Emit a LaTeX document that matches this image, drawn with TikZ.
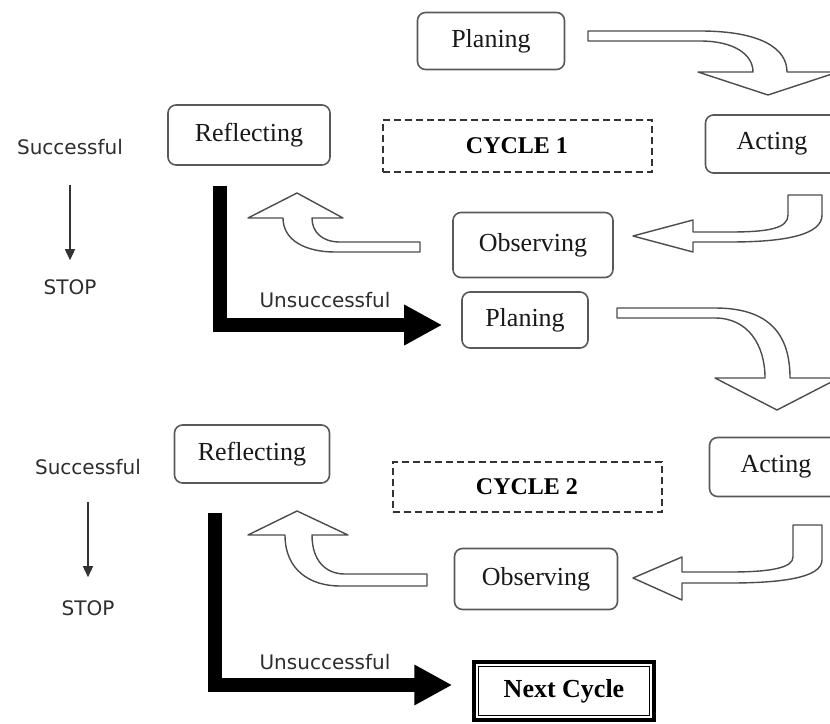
\documentclass[tikz,border=0pt]{standalone}
\usepackage{fontspec}
\setmainfont{Liberation Serif}
\newfontfamily\labelfont{DejaVu Sans}
\usetikzlibrary{arrows.meta}

\begin{document}
\begin{tikzpicture}[x=1pt,y=-1pt,
  box/.style={draw=black!65, line width=1.6pt, rounded corners=8pt, inner sep=0pt, text=black!90, font=\fontsize{26}{28}\selectfont},
  cyclebox/.style={draw=black!80, dash pattern=on 7pt off 4pt, line width=2pt, inner sep=0pt, font=\bfseries\fontsize{24}{26}\selectfont},
  nextbox/.style={draw=black, line width=3.5pt, inner sep=0pt, font=\bfseries\fontsize{26}{28}\selectfont},
  lbl/.style={inner sep=0pt, text=black!82, font=\labelfont\fontsize{20}{22}\selectfont},
  fat/.style={draw=black!70, fill=white, line width=1.4pt, line join=round},
  heavy/.style={line width=14pt, -{Triangle[length=38pt,width=38pt]}},
  stoparrow/.style={draw=black!80, line width=1.3pt, -{Triangle[length=11pt,width=10pt]}}]
\fill[white] (0,0) rectangle (830,723);
\clip (0,0) rectangle (830,723);

\node (n0) [box, minimum width=147pt, minimum height=57pt, at={(491,41)}] {Planing};
\node (n1) [box, minimum width=133pt, minimum height=58pt, at={(772,144)}] {Acting};
\node (n2) [box, minimum width=160pt, minimum height=65pt, at={(533,245)}] {Observing};
\node (n3) [box, minimum width=162pt, minimum height=60pt, at={(249,135)}] {Reflecting};
\node (n4) [cyclebox, minimum width=269pt, minimum height=52pt, at={(517,146)}] {CYCLE 1};
\node (n5) [lbl, at={(70,147)}] {Successful};
\node (n6) [lbl, at={(70,287)}] {STOP};
\node (n7) [lbl, at={(325,300)}] {Unsuccessful};

\node (m0) [box, minimum width=126pt, minimum height=56pt, at={(525,320)}] {Planing};
\node (m1) [box, minimum width=133pt, minimum height=59pt, at={(776,467)}] {Acting};
\node (m2) [box, minimum width=163pt, minimum height=61pt, at={(536,579)}] {Observing};
\node (m3) [box, minimum width=155pt, minimum height=58pt, at={(252,454)}] {Reflecting};
\node (m4) [cyclebox, minimum width=269pt, minimum height=50pt, at={(527,487)}] {CYCLE 2};
\node (m5) [lbl, at={(88,467)}] {Successful};
\node (m6) [lbl, at={(88,608)}] {STOP};
\node (m7) [lbl, at={(325,662)}] {Unsuccessful};
\node (m8) [nextbox, minimum width=180pt, minimum height=58pt, at={(564,691)}] {Next Cycle};
\draw [line width=1pt] ([shift={(6,6)}]m8.north west) rectangle ([shift={(-6,-6)}]m8.south east);

% hollow block arrows, cycle 1
\path [fat] (588,31) -- (700,31) .. controls (760,31) and (787,48) .. (787,72) -- (838,72) -- (768,95) -- (698,72) -- (753,72) .. controls (753,55) and (735,41) .. (700,41) -- (588,41) -- cycle;
\path [fat] (788,195) -- (822,195) -- (822,215) .. controls (822,235) and (785,242) .. (730,242) -- (693,242) -- (693,252) -- (633,236) -- (693,220) -- (693,232) -- (730,232) .. controls (770,232) and (788,228) .. (788,215) -- cycle;
\path [fat] (420,242) -- (340,242) .. controls (322,242) and (312,232) .. (312,218) -- (343,218) -- (297,193) -- (248,218) -- (283,218) .. controls (283,240) and (305,252) .. (335,252) -- (420,252) -- cycle;

% hollow block arrows, cycle 2
\path [fat] (617,308) -- (715,308) .. controls (770,308) and (790,335) .. (790,378) -- (839,378) -- (777,410) -- (715,378) -- (765,378) .. controls (765,345) and (748,318) .. (715,318) -- (617,318) -- cycle;
\path [fat] (793,525) -- (822,525) -- (822,560) .. controls (822,578) and (780,583) .. (730,583) -- (682,583) -- (682,600) -- (633,578) -- (682,557) -- (682,572) -- (730,572) .. controls (770,572) and (793,568) .. (793,557) -- cycle;
\path [fat] (427,574) -- (345,574) .. controls (325,574) and (312,560) .. (312,535) -- (348,535) -- (297,511) -- (248,535) -- (285,535) .. controls (285,570) and (310,586) .. (340,586) -- (427,586) -- cycle;

\path [stoparrow, shorten <=30pt, shorten >=19pt] (n5.south) -- (n5.south |- n6.north);
\path [stoparrow, shorten <=27pt, shorten >=23pt] (m5.south) -- (m5.south |- m6.north);

\coordinate (c0) at ([shift={(-29,20)}]n3.south);
\coordinate (c1) at ([shift={(-19,5)}]m0.west);
\draw [heavy] (c0) |- (c1);
\coordinate (c2) at ([shift={(-37,29)}]m3.south);
\coordinate (c3) at ([shift={(-20,-6)}]m8.west);
\draw [heavy] (c2) |- (c3);
\end{tikzpicture}
\end{document}
